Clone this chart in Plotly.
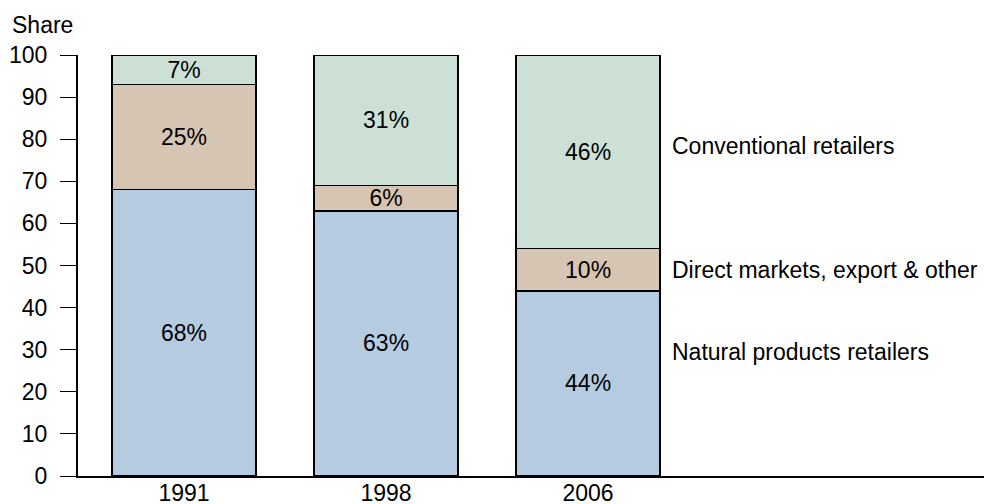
import plotly.graph_objs as go

years = ['1991', '1998', '2006']
natural = [68, 63, 44]
direct = [25, 6, 10]
conventional = [7, 31, 46]
series_names = ['Natural products retailers', 'Direct markets, export & other', 'Conventional retailers']
y_ticks = [0, 10, 20, 30, 40, 50, 60, 70, 80, 90, 100]

# ラベル位置（凡例の代わりに右側に置く）
label_y = [29.5, 49, 78.5]

colors = ['#b5cbdf', '#d7c5b3', '#cde0d5']
font = 'Liberation Sans, Arial, Helvetica, sans-serif'
fs = 23

fig = go.Figure()
for vals, name, col in zip([natural, direct, conventional], series_names, colors):
    fig.add_trace(go.Bar(
        x=years, y=vals, name=name,
        marker=dict(color=col, line=dict(color='black', width=1.5)),
        width=0.713,
        text=[f'{v}%' for v in vals],
        textposition='inside',
        insidetextanchor='middle',
        textfont=dict(size=fs, color='black', family=font),
        showlegend=False
    ))

for name, yv in zip(series_names, label_y):
    fig.add_annotation(
        x=0.653, xref='paper', y=yv, yref='y',
        text=name, showarrow=False, xanchor='left',
        font=dict(size=fs, color='black', family=font)
    )

fig.add_annotation(
    x=-0.075, xref='paper', y=1.0, yref='paper', yshift=30,
    text='Share', showarrow=False, xanchor='left', yanchor='middle',
    font=dict(size=fs, color='black', family=font)
)

fig.update_layout(
    barmode='stack',
    width=984, height=504,
    margin=dict(l=78, r=0, t=55, b=28),
    plot_bgcolor='white', paper_bgcolor='white',
    font=dict(family=font, size=fs, color='black'),
    uniformtext=dict(minsize=fs, mode='show'),
    xaxis=dict(
        type='category', range=[-0.525, 3.96],
        showline=True, linecolor='black', linewidth=2,
        ticks='', showgrid=False, zeroline=False,
        ticklabelstandoff=-5,
        tickfont=dict(size=fs), automargin=False
    ),
    yaxis=dict(
        range=[0, 100], tickvals=y_ticks,
        showline=True, linecolor='black', linewidth=2,
        ticks='outside', ticklen=16, tickwidth=1, tickcolor='black',
        ticklabelstandoff=8,
        showgrid=False, zeroline=False,
        tickfont=dict(size=fs), automargin=False
    )
)

# ページの余白を消す
fig.write_html("out.html", config={'displayModeBar': False},
               post_script="document.body.style.margin='0';document.body.style.overflow='hidden';")
